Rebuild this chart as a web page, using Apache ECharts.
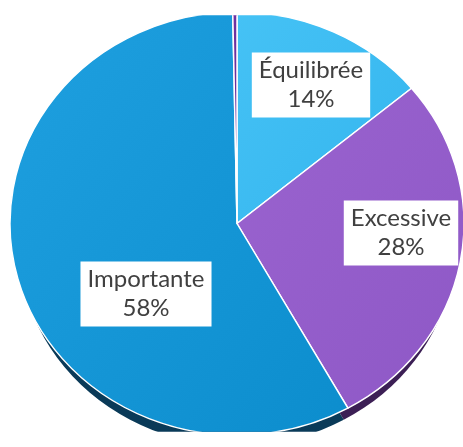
<!DOCTYPE html>
<html>
<head>
<meta charset="utf-8">
<script src="https://cdn.jsdelivr.net/npm/echarts@6/dist/echarts.min.js"></script>
<style>
  html, body { margin: 0; padding: 0; background: #fff; overflow: hidden; }
  #pie, #labels { position: absolute; left: 0; top: 0; width: 463px; height: 447px; }
  /* tilt the disc into an ellipse; labels stay on their own upright layer */
  #pie { transform: scaleY(0.932); transform-origin: 0 223.5px; }
</style>
</head>
<body>
<div id="pie"></div>
<div id="labels"></div>
<script>
// Shares of each category (percent); the last, unnamed one is a thin remainder
const categories = ['Équilibrée', 'Excessive', 'Importante', ''];
const shares = [14, 28, 58, 0.3];

// Face colours (top, bottom of the gradient) and the darker rim colours
const faceTop = ['#45c2f5', '#9a63cf', '#1fa0e0', '#7233a6'];
const faceBottom = ['#34b5ee', '#8e58c6', '#0c8dcd', '#652b96'];
const rimColors = ['#1f6f94', '#3c1f55', '#0a3a58', '#3a1a55'];

// Label anchor points (pixels) for the named categories
const labelPos = [[311, 85], [401, 233], [146, 294]];

const CX = 237, CY = 223.5, R = 227, SY = 0.932;
const RIM_SHIFT = 20, RIM_SHRINK = 8.5;   // the rim shows only along the lower edge

function grad(i) {
  return new echarts.graphic.LinearGradient(0, 0, 1, 1, [
    { offset: 0, color: faceTop[i] },
    { offset: 1, color: faceBottom[i] }
  ]);
}

const pie = echarts.init(document.getElementById('pie'), null, { renderer: 'svg' });
pie.setOption({
  animation: false,
  series: [
    {
      type: 'pie', silent: true,
      center: [CX, CY + RIM_SHIFT], radius: R - RIM_SHRINK,
      startAngle: 90, clockwise: true,
      label: { show: false }, labelLine: { show: false },
      itemStyle: { borderWidth: 0 },
      data: categories.map((c, i) => ({ name: c, value: shares[i], itemStyle: { color: rimColors[i] } }))
    },
    {
      type: 'pie', silent: true,
      center: [CX, CY], radius: R,
      startAngle: 90, clockwise: true,
      label: { show: false }, labelLine: { show: false },
      itemStyle: { borderColor: '#ffffff', borderWidth: 1.5 },
      data: categories.map((c, i) => ({ name: c, value: shares[i], itemStyle: { color: grad(i) } }))
    }
  ]
});

const lab = echarts.init(document.getElementById('labels'));
lab.setOption({
  animation: false,
  series: [{
    type: 'pie', silent: true,
    center: [CX, CY], radius: R * SY,
    startAngle: 90, clockwise: true,
    itemStyle: { color: 'rgba(0,0,0,0)', borderWidth: 0 },
    labelLine: { show: false },
    label: {
      show: true, position: 'inside',
      formatter: p => p.name + '\n' + p.value + '%',
      fontFamily: 'Lato, "Noto Sans", sans-serif',
      fontSize: 24, lineHeight: 29, color: '#404040',
      backgroundColor: '#ffffff', padding: [4, 7, 3, 7], align: 'center'
    },
    labelLayout: function (params) {
      const p = labelPos[params.dataIndex];
      if (!p) return {};
      return { x: p[0], y: p[1], align: 'center', verticalAlign: 'middle' };
    },
    data: categories.map((c, i) => ({
      name: c, value: shares[i],
      label: { show: c !== '' }
    }))
  }]
});
</script>
</body>
</html>
